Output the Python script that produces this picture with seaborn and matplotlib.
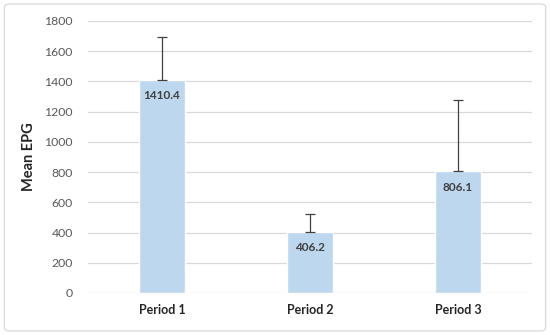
import matplotlib
matplotlib.use("Agg")
import matplotlib.pyplot as plt
from matplotlib.patches import FancyBboxPatch
import pandas as pd
import seaborn as sns

periods = ["Period 1", "Period 2", "Period 3"]
mean_epg = [1410.4, 406.2, 806.1]
err_up = [285, 117, 472]

df = pd.DataFrame({"Period": periods, "EPG": mean_epg})

sns.set_style("white")
plt.rcParams["font.family"] = ["Lato", "DejaVu Sans"]

fig = plt.figure(figsize=(5.5, 3.35), dpi=100)
ax = fig.add_axes([0.16, 0.1254, 0.807, 0.812])

sns.barplot(data=df, x="Period", y="EPG", color="#BDD7EE", width=0.31,
            saturation=1, ax=ax, zorder=2)
ax.errorbar(range(len(periods)), mean_epg, yerr=[[0, 0, 0], err_up], fmt="none",
            ecolor="#404040", elinewidth=0.9, capsize=3.5, capthick=0.9, zorder=3)

for i, v in enumerate(mean_epg):
    ax.text(i, v - 105, f"{v:.1f}", ha="center", va="center", fontsize=8.5,
            fontweight="bold", color="#404040", zorder=4)

ax.set_ylim(0, 1800)
ax.set_xlim(-0.5, 2.5)
ax.set_yticks(range(0, 1801, 200))
ax.yaxis.grid(True, color="#D9D9D9", linewidth=0.9, zorder=0)
ax.set_axisbelow(True)
for s in ax.spines.values():
    s.set_visible(False)
ax.tick_params(axis="both", length=0)
ax.tick_params(axis="y", labelsize=8.8, labelcolor="#595959", pad=11)
ax.tick_params(axis="x", labelsize=9, labelcolor="#262626", pad=8)
for lab in ax.get_xticklabels():
    lab.set_fontweight("bold")
ax.set_xlabel("")
ax.set_ylabel("Mean EPG", fontsize=10.5, fontweight="bold", color="#262626", labelpad=6)

border = FancyBboxPatch((0.008, 0.012), 0.984, 0.976, boxstyle="round,pad=0,rounding_size=0.01",
                        transform=fig.transFigure, fill=False, edgecolor="#D9D9D9", linewidth=0.9)
fig.patches.append(border)

fig.savefig("out.png", dpi=100)
